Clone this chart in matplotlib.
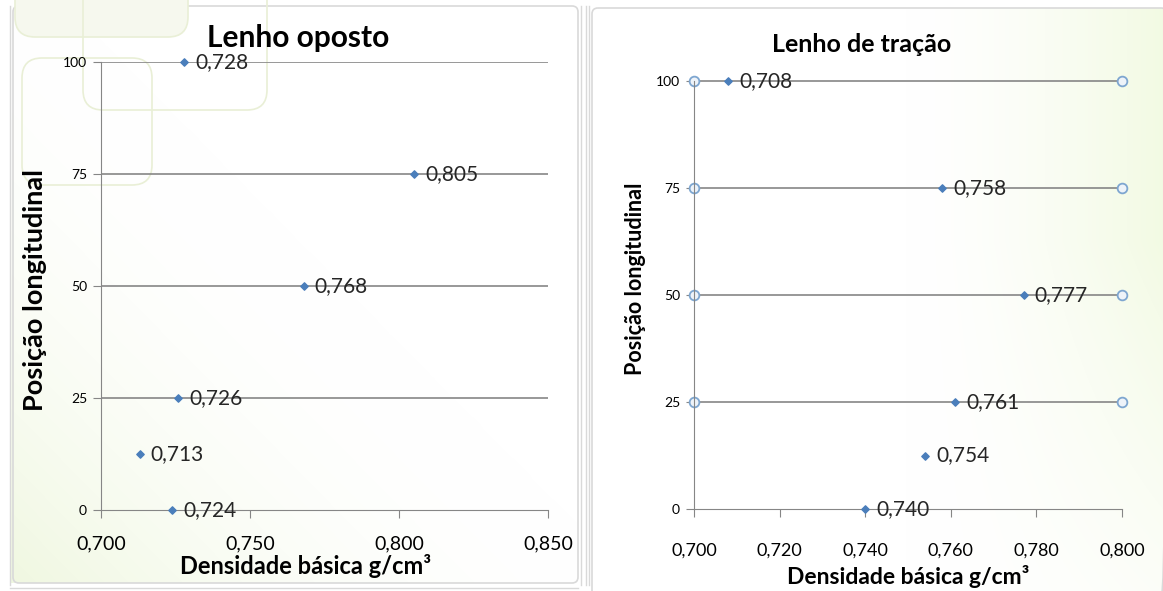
import numpy as np
import matplotlib.pyplot as plt
from matplotlib.patches import FancyBboxPatch
from matplotlib.ticker import FuncFormatter

plt.rcParams['font.family'] = ['Lato', 'DejaVu Sans']

# dados
posicao = [100, 75, 50, 25, 12.5, 0]
dens_oposto = [0.728, 0.805, 0.768, 0.726, 0.713, 0.724]
dens_tracao = [0.708, 0.758, 0.777, 0.761, 0.754, 0.740]
rotulos_oposto = ['0,728', '0,805', '0,768', '0,726', '0,713', '0,724']
rotulos_tracao = ['0,708', '0,758', '0,777', '0,761', '0,754', '0,740']
guia_pos = [25, 50, 75, 100]
guia_x = [0.700, 0.800]

azul = '#4a7ebb'
cinza = '#868686'
virgula = FuncFormatter(lambda v, p: ('%.3f' % v).replace('.', ','))

fig = plt.figure(figsize=(11.63, 5.91), dpi=100)

# fundo com leve degrade
bg = fig.add_axes([0, 0, 1, 1], zorder=-10)
bg.set_xlim(0, 1163)
bg.set_ylim(591, 0)
bg.axis('off')
yy, xx = np.mgrid[0:591, 0:580]
img = np.ones((591, 580, 3))
w = np.clip(1 - (xx / 580.0 + (591 - yy) / 591.0) / 1.1, 0, 1) ** 2
img[..., 0] -= 0.06 * w
img[..., 1] -= 0.03 * w
img[..., 2] -= 0.12 * w
bg.imshow(img, extent=[10, 578, 583, 6], aspect='auto')
yy2, xx2 = np.mgrid[0:591, 0:575]
w2 = np.clip((xx2 / 575.0 - 0.55) / 0.45, 0, 1) * np.clip(1 - yy2 / 591.0 + 0.4, 0, 1)
w2 = w2 ** 1.5
img2 = np.ones((591, 575, 3))
img2[..., 0] -= 0.05 * w2
img2[..., 1] -= 0.02 * w2
img2[..., 2] -= 0.11 * w2
bg.imshow(img2, extent=[590, 1165, 591, 8], aspect='auto')

# molduras
for x0, y0, ww, hh in [(13, 6, 565, 577), (592, 8, 575, 590)]:
    bg.add_patch(FancyBboxPatch((x0, y0), ww, hh, boxstyle='round,pad=0,rounding_size=6',
                                fill=False, ec='#d9d9d9', lw=1.2))
for xv in [10, 581, 586, 589]:
    bg.plot([xv, xv], [6, 585], color='#d9d9d9', lw=1)
bg.plot([10, 578], [588, 588], color='#d9d9d9', lw=1)

# retangulos decorativos
bg.add_patch(FancyBboxPatch((15, -40), 173, 77, boxstyle='round,pad=0,rounding_size=20',
                            fc='#f6f8ee', ec='none'))
for x0, y0, ww, hh in [(15, -40, 173, 77), (83, -30, 184, 140), (22, 58, 130, 127)]:
    bg.add_patch(FancyBboxPatch((x0, y0), ww, hh, boxstyle='round,pad=0,rounding_size=20',
                                fill=False, ec='#e9efd6', lw=1.2))


def estilo(ax):
    for s in ['top', 'right']:
        ax.spines[s].set_visible(False)
    ax.spines['left'].set_color(cinza)
    ax.spines['bottom'].set_color(cinza)
    ax.tick_params(axis='both', color=cinza, length=6, direction='out')
    ax.set_facecolor('none')
    ax.set_ylim(0, 100)
    ax.set_yticks([0, 25, 50, 75, 100])
    ax.tick_params(axis='y', labelsize=10, pad=4)
    ax.xaxis.set_major_formatter(virgula)


# Lenho oposto
ax1 = fig.add_axes([0.0868, 0.137, 0.3844, 0.758])
estilo(ax1)
ax1.set_xlim(0.700, 0.850)
ax1.set_xticks([0.700, 0.750, 0.800, 0.850])
ax1.tick_params(axis='x', labelsize=14, pad=12)
for p in guia_pos:
    ax1.axhline(p, color=cinza, lw=1.2, zorder=1)
ax1.scatter(dens_oposto, posicao, marker='D', s=14, color=azul, zorder=3, clip_on=False)
for x, y, r in zip(dens_oposto, posicao, rotulos_oposto):
    ax1.annotate(r, (x, y), xytext=(8, 0), textcoords='offset points', ha='left', va='center',
                 fontsize=15, color='#262626', annotation_clip=False)
fig.text(298 / 1163, 1 - 38 / 591, 'Lenho oposto', fontsize=21.5, fontweight='bold',
         ha='center', va='center')
fig.text(306 / 1163, 1 - 566 / 591, 'Densidade básica g/cm³', fontsize=17, fontweight='bold',
         ha='center', va='center')
fig.text(35 / 1163, 1 - 290 / 591, 'Posição longitudinal', fontsize=19.5, fontweight='bold',
         ha='center', va='center', rotation=90)

# Lenho de tracao
ax2 = fig.add_axes([0.5967, 0.1387, 0.368, 0.724])
estilo(ax2)
ax2.set_xlim(0.700, 0.800)
ax2.set_xticks(np.arange(0.700, 0.8001, 0.020))
ax2.tick_params(axis='x', labelsize=13, pad=18)
for p in guia_pos:
    ax2.plot(guia_x, [p, p], color=cinza, lw=1.2, marker='o', ms=7, mfc='#eef3f9',
             mec='#7ea6d0', mew=1.3, zorder=2, clip_on=False)
ax2.scatter(dens_tracao, posicao, marker='D', s=14, color=azul, zorder=3, clip_on=False)
for x, y, r in zip(dens_tracao, posicao, rotulos_tracao):
    ax2.annotate(r, (x, y), xytext=(8, 0), textcoords='offset points', ha='left', va='center',
                 fontsize=15, color='#262626', annotation_clip=False)
fig.text(862 / 1163, 1 - 45 / 591, 'Lenho de tração', fontsize=18, fontweight='bold',
         ha='center', va='center')
fig.text(908 / 1163, 1 - 577 / 591, 'Densidade básica g/cm³', fontsize=16.5, fontweight='bold',
         ha='center', va='center')
fig.text(635 / 1163, 1 - 279 / 591, 'Posição longitudinal', fontsize=15.5, fontweight='bold',
         ha='center', va='center', rotation=90)

fig.savefig('out.png', dpi=100)
